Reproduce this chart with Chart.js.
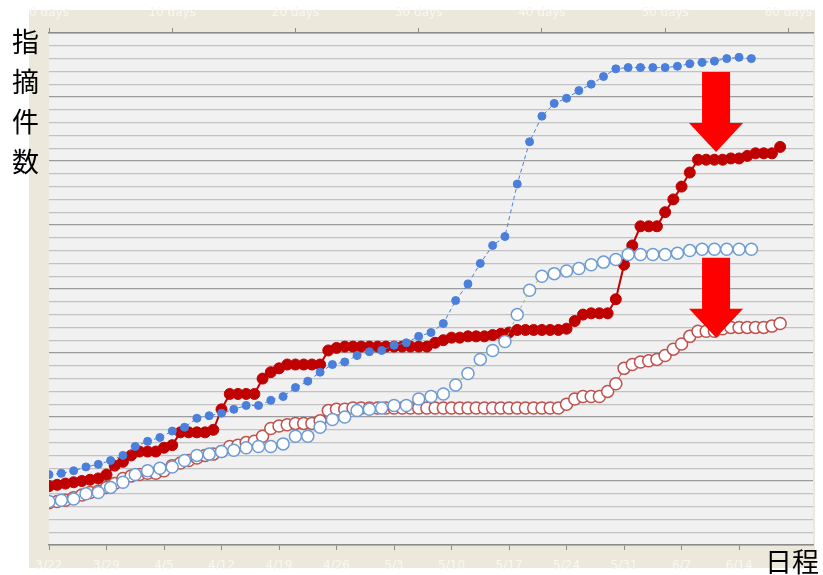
<!DOCTYPE html>
<html>
<head>
<meta charset="utf-8">
<script src="https://cdn.jsdelivr.net/npm/chart.js@4"></script>
<style>
  html, body { margin: 0; padding: 0; background: #fff; }
  #wrap { position: relative; width: 823px; height: 575px; }
  canvas { position: absolute; left: 0; top: 0; }
  .title { position: absolute; font-family: "Noto Sans CJK JP", sans-serif; color: #000; font-size: 27px; }
  #ytitle { left: 12px; top: 21px; width: 30px; line-height: 40px; }
  #xtitle { left: 765px; top: 546px; line-height: 30px; }
</style>
</head>
<body>
<div id="wrap">
  <canvas id="chart" width="823" height="575"></canvas>
  <div class="title" id="ytitle">指<br>摘<br>件<br>数</div>
  <div class="title" id="xtitle">日程</div>
</div>
<script>
// bottom axis: calendar dates, one tick per week
const dateLabels = ['3/22', '3/29', '4/5', '4/12', '4/19', '4/26', '5/3', '5/10', '5/17', '5/24', '5/31', '6/7', '6/14', '6/21'];
// top axis: elapsed days
const dayLabels = ['0 days', '10 days', '20 days', '30 days', '40 days', '50 days', '60 days'];

// previous project (plotted per day on the top axis)
const prevFound = [55, 56, 58, 61, 63, 66, 70, 77, 81, 84, 89, 92, 99, 101, 103, 106, 109, 109, 113, 116,
  123, 128, 135, 141, 143, 148, 151, 152, 156, 158, 163, 166, 173, 191, 204, 220, 234, 241, 282, 315,
  335, 345, 349, 355, 360, 366, 372, 373, 373, 373, 373, 374, 376, 377, 378, 380, 381, 380];
const prevFixed = [34, 35, 36, 40, 41, 45, 49, 55, 58, 60, 61, 66, 70, 71, 73, 74, 76, 77, 77, 79,
  85, 85, 92, 98, 100, 105, 106, 107, 109, 109, 114, 116, 118, 125, 134, 145, 152, 159, 180, 199,
  210, 212, 214, 216, 219, 221, 223, 227, 227, 227, 227, 228, 230, 231, 231, 231, 231, 231];

// current project (plotted per calendar day on the bottom axis)
const curFound = [46, 47, 48, 49, 50, 51, 52, 55, 62, 65, 70, 73, 73, 73, 76, 78, 88, 88, 88, 88,
  90, 106, 118, 118, 118, 118, 130, 135, 138, 141, 141, 141, 141, 141, 152, 154, 155, 155, 155, 155,
  155, 155, 155, 155, 155, 155, 155, 158, 160, 162, 162, 163, 163, 163, 164, 165, 166, 168, 168, 168,
  168, 168, 168, 169, 175, 180, 181, 181, 181, 192, 219, 234, 249, 249, 249, 260, 270, 280, 291, 301,
  301, 301, 301, 302, 302, 304, 306, 306, 306, 311];
const curFixed = [33, 34, 35, 37, 39, 41, 42, 45, 48, 52, 54, 55, 56, 56, 58, 62, 64, 66, 68, 70,
  71, 73, 77, 78, 80, 81, 85, 91, 93, 94, 95, 95, 95, 97, 105, 106, 106, 107, 107, 107,
  107, 107, 107, 107, 107, 107, 107, 107, 107, 107, 107, 107, 107, 107, 107, 107, 107, 107, 107, 107,
  107, 107, 107, 110, 114, 116, 116, 116, 120, 126, 138, 141, 143, 144, 145, 148, 153, 157, 163, 167,
  167, 167, 169, 170, 170, 170, 170, 170, 171, 173];

// arrow annotations: tip position in (calendar day, count)
const arrowTips = [[81.2, 307], [81.2, 162]];

const toPoints = arr => arr.map((v, i) => ({ x: i, y: v }));

const panelPlugin = {
  id: 'panel',
  beforeDraw(chart) {
    const { ctx, chartArea } = chart;
    ctx.save();
    ctx.fillStyle = '#ece9dc';
    ctx.fillRect(29, 10, 786, 558);
    ctx.fillStyle = '#f1f1f1';
    ctx.fillRect(chartArea.left, chartArea.top, chartArea.right - chartArea.left, chartArea.bottom - chartArea.top);
    ctx.restore();
  }
};

const arrowPlugin = {
  id: 'arrows',
  afterDatasetsDraw(chart) {
    const { ctx, scales } = chart;
    ctx.save();
    ctx.fillStyle = '#ff0000';
    arrowTips.forEach(([d, v]) => {
      const tx = scales.x.getPixelForValue(d);
      const ty = scales.y.getPixelForValue(v);
      ctx.beginPath();
      ctx.moveTo(tx - 14, ty - 80);
      ctx.lineTo(tx + 14, ty - 80);
      ctx.lineTo(tx + 14, ty - 29);
      ctx.lineTo(tx + 27, ty - 29);
      ctx.lineTo(tx, ty);
      ctx.lineTo(tx - 27, ty - 29);
      ctx.lineTo(tx - 14, ty - 29);
      ctx.closePath();
      ctx.fill();
    });
    ctx.restore();
  }
};

const tickFont = { family: 'DejaVu Sans', size: 12 };
const labelColor = '#f8f7f2';
const axisColor = '#8c8c8c';

new Chart(document.getElementById('chart'), {
  type: 'line',
  data: {
    datasets: [
      {
        data: toPoints(prevFound), xAxisID: 'x2', order: 0,
        borderColor: '#4a7fdc', borderWidth: 1, borderDash: [4, 3],
        pointRadius: 4, pointBackgroundColor: '#4a7fdc', pointBorderColor: '#4a7fdc', pointBorderWidth: 1
      },
      {
        data: toPoints(prevFixed), xAxisID: 'x2', order: 1,
        borderColor: '#9bbb59', borderWidth: 1, borderDash: [3, 3],
        pointRadius: 6, pointBackgroundColor: '#ffffff', pointBorderColor: '#6d9bd4', pointBorderWidth: 1.5
      },
      {
        data: toPoints(curFound), xAxisID: 'x', order: 2,
        borderColor: '#c00000', borderWidth: 2,
        pointRadius: 5.5, pointBackgroundColor: '#c00000', pointBorderColor: '#c00000', pointBorderWidth: 1
      },
      {
        data: toPoints(curFixed), xAxisID: 'x', order: 3,
        borderColor: '#c0504d', borderWidth: 1,
        pointRadius: 6, pointBackgroundColor: '#ffffff', pointBorderColor: '#c0504d', pointBorderWidth: 1.5
      }
    ]
  },
  options: {
    responsive: false,
    animation: false,
    layout: { padding: { right: 10 } },
    plugins: { legend: { display: false }, tooltip: { enabled: false } },
    scales: {
      x: {
        type: 'linear', position: 'bottom', min: 0, max: 93,
        ticks: {
          stepSize: 7, autoSkip: false, maxRotation: 0, padding: 9,
          color: labelColor, font: tickFont,
          callback: v => dateLabels[v / 7]
        },
        grid: { drawOnChartArea: false, tickLength: 5, color: axisColor },
        border: { color: axisColor, width: 1.5 },
        afterFit: s => { s.height = 30; }
      },
      x2: {
        type: 'linear', position: 'top', min: 0, max: 62,
        ticks: {
          stepSize: 10, autoSkip: false, maxRotation: 0, padding: 8,
          color: labelColor, font: tickFont,
          callback: v => dayLabels[v / 10]
        },
        grid: { drawOnChartArea: false, tickLength: 5, color: axisColor },
        border: { color: axisColor, width: 1.5 },
        afterFit: s => { s.height = 33; }
      },
      y: {
        min: 0, max: 400,
        ticks: { stepSize: 10, display: false },
        grid: {
          drawTicks: false,
          color: c => (c.tick.value % 50 === 0 ? '#9c9c9c' : '#c2c2c2'),
          lineWidth: 1.2
        },
        border: { display: false },
        afterFit: s => { s.width = 49; }
      }
    }
  },
  plugins: [panelPlugin, arrowPlugin]
});
</script>
</body>
</html>
